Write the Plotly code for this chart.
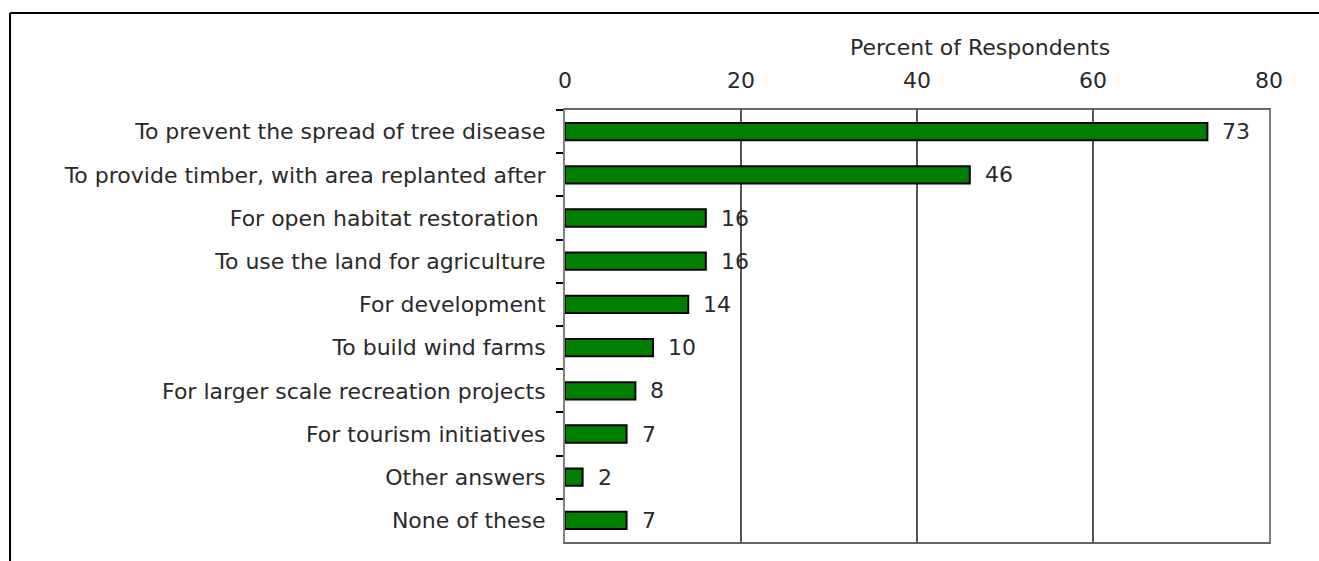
import plotly.graph_objects as go

# Survey responses: reasons considered acceptable for removing woodland
categories = [
    "To prevent the spread of tree disease",
    "To provide timber, with area replanted after",
    "For open habitat restoration ",
    "To use the land for agriculture",
    "For development",
    "To build wind farms",
    "For larger scale recreation projects",
    "For tourism initiatives",
    "Other answers",
    "None of these",
]
percent = [73, 46, 16, 16, 14, 10, 8, 7, 2, 7]
x_ticks = [0, 20, 40, 60, 80]

FONT = dict(family="DejaVu Sans, Verdana, sans-serif", size=22, color="#2a2a2a")
W, H = 1319, 561
L, R, T, B = 565, 50, 110, 19
pw, ph = W - L - R, H - T - B

fig = go.Figure()
fig.add_trace(go.Bar(
    x=percent,
    y=categories,
    orientation="h",
    width=0.4,
    marker=dict(color="#008000", line=dict(color="#000000", width=2)),
    hoverinfo="x+y",
))

# value labels just to the right of each bar
for cat, v in zip(categories, percent):
    fig.add_annotation(
        x=v, y=cat, text=str(v), showarrow=False,
        xanchor="left", xshift=13, font=FONT,
    )

# pixel -> paper coordinate helpers
fx = lambda px: (px - L) / pw
fy = lambda py: (H - B - py) / ph

# axis title, set right of the plot centre
fig.add_annotation(
    xref="paper", yref="paper", x=fx(980), y=fy(48),
    text="Percent of Respondents", showarrow=False,
    xanchor="center", yanchor="middle", font=FONT,
)

# outer frame around the chart block
fig.add_shape(type="line", xref="paper", yref="paper",
              x0=fx(10), x1=fx(W + 10), y0=fy(13), y1=fy(13),
              line=dict(color="#000000", width=2))
fig.add_shape(type="line", xref="paper", yref="paper",
              x0=fx(10), x1=fx(10), y0=fy(13), y1=fy(H + 10),
              line=dict(color="#000000", width=2))

fig.update_layout(
    width=W, height=H,
    margin=dict(l=L, r=R, t=T, b=B, pad=0),
    paper_bgcolor="white",
    plot_bgcolor="white",
    font=FONT,
    showlegend=False,
    bargap=0.6,
)

fig.update_xaxes(
    side="top",
    range=[0, 80],
    tickvals=x_ticks,
    ticktext=[str(t) for t in x_ticks],
    showgrid=True, gridcolor="#555555", gridwidth=1.5,
    zeroline=False,
    showline=True, linecolor="#666666", linewidth=2, mirror=True,
    ticks="", ticklabelstandoff=11,
    tickfont=FONT,
)

fig.update_yaxes(
    autorange="reversed",
    showgrid=False,
    showline=True, linecolor="#808080", linewidth=2, mirror=True,
    ticks="outside", tickson="boundaries", ticklen=7, tickcolor="#000000", tickwidth=1.5,
    ticklabelstandoff=13,
    tickfont=FONT,
)

fig.write_html("out.html")
